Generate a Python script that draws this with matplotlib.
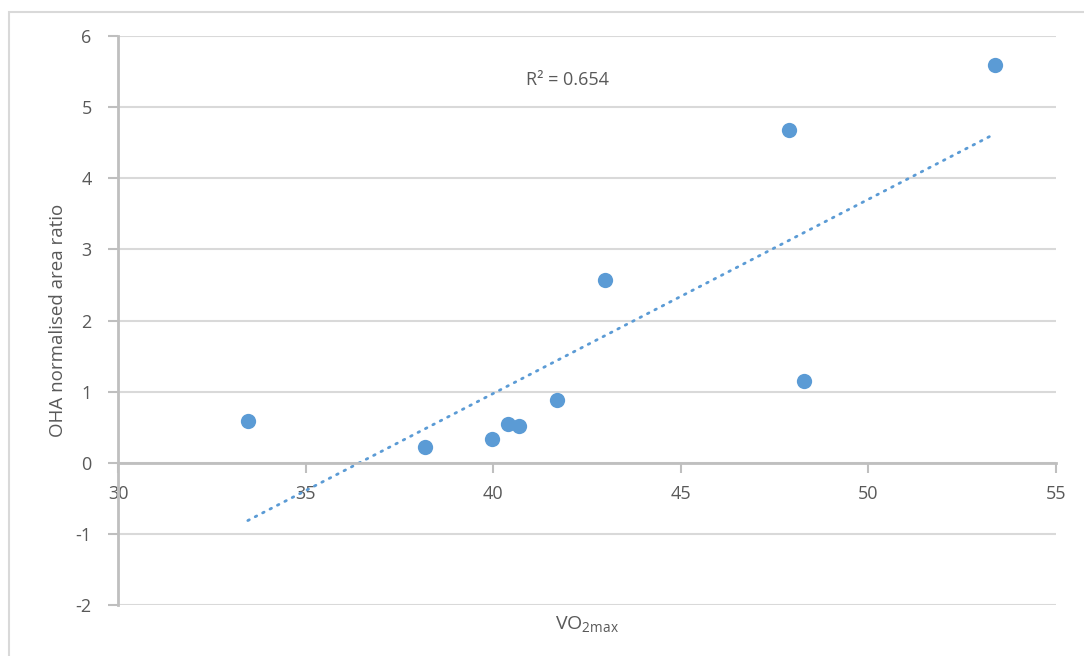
import numpy as np
import matplotlib.pyplot as plt
from matplotlib.patches import Rectangle

plt.rcParams['font.family'] = ['Open Sans', 'DejaVu Sans']
plt.rcParams['axes.unicode_minus'] = False

# VO2max vs OHA normalised area ratio
vo2max = [33.46, 38.18, 39.97, 40.39, 40.69, 41.70, 42.98, 47.88, 48.28, 53.37]
oha_ratio = [0.58, 0.225, 0.34, 0.55, 0.51, 0.885, 2.57, 4.68, 1.15, 5.59]
r2_label = "R² = 0.654"

blue = "#5B9BD5"
grid_c = "#D9D9D9"
axis_c = "#BFBFBF"
text_c = "#595959"

fig = plt.figure(figsize=(10.84, 6.56), dpi=100)
ax = fig.add_axes([118/1084, 1-605/656, (1056-118)/1084, (605-36)/656])

# outer chart frame
fig.patches.append(Rectangle((9/1084, -0.05), 1.2, 1-12/656+0.05, transform=fig.transFigure,
                             fill=False, edgecolor="#D9D9D9", lw=1.5))

ax.set_xlim(30, 55)
ax.set_ylim(-2, 6)
ax.set_xticks(range(30, 56, 5))
ax.set_yticks(range(-2, 7))
ax.grid(axis='y', color=grid_c, lw=1.5)
ax.set_axisbelow(True)

for s in ['top', 'right']:
    ax.spines[s].set_visible(False)
ax.spines['bottom'].set_position(('data', 0))
ax.spines['bottom'].set_color(axis_c)
ax.spines['bottom'].set_linewidth(2)
ax.spines['left'].set_color(axis_c)
ax.spines['left'].set_linewidth(2)
ax.tick_params(axis='both', colors=axis_c, labelcolor=text_c, labelsize=13, width=1.5, length=7)
ax.tick_params(axis='x', pad=9)
ax.tick_params(axis='y', pad=12)

# linear trendline
slope, intercept = np.polyfit(vo2max, oha_ratio, 1)
xs = np.array([min(vo2max), max(vo2max)])
ax.plot(xs, slope*xs + intercept, color=blue, lw=2, linestyle=(0, (0.6, 2.4)),
        dash_capstyle='round', zorder=2)

ax.plot(vo2max, oha_ratio, 'o', color=blue, ms=11, mec='none', zorder=3)

ax.text(568/1084, 1-80/656, r2_label, transform=fig.transFigure, ha='center', va='center',
        fontsize=13, color=text_c)

fig.text(58/1084, 1-320/656, "OHA normalised area ratio", rotation=90, ha='center', va='center',
         fontsize=13.5, color=text_c)
fig.text(587/1084, 1-625/656, r"VO$_{\mathregular{2max}}$", ha='center', va='center',
         fontsize=14, color=text_c)

fig.savefig("out.png", dpi=100)
